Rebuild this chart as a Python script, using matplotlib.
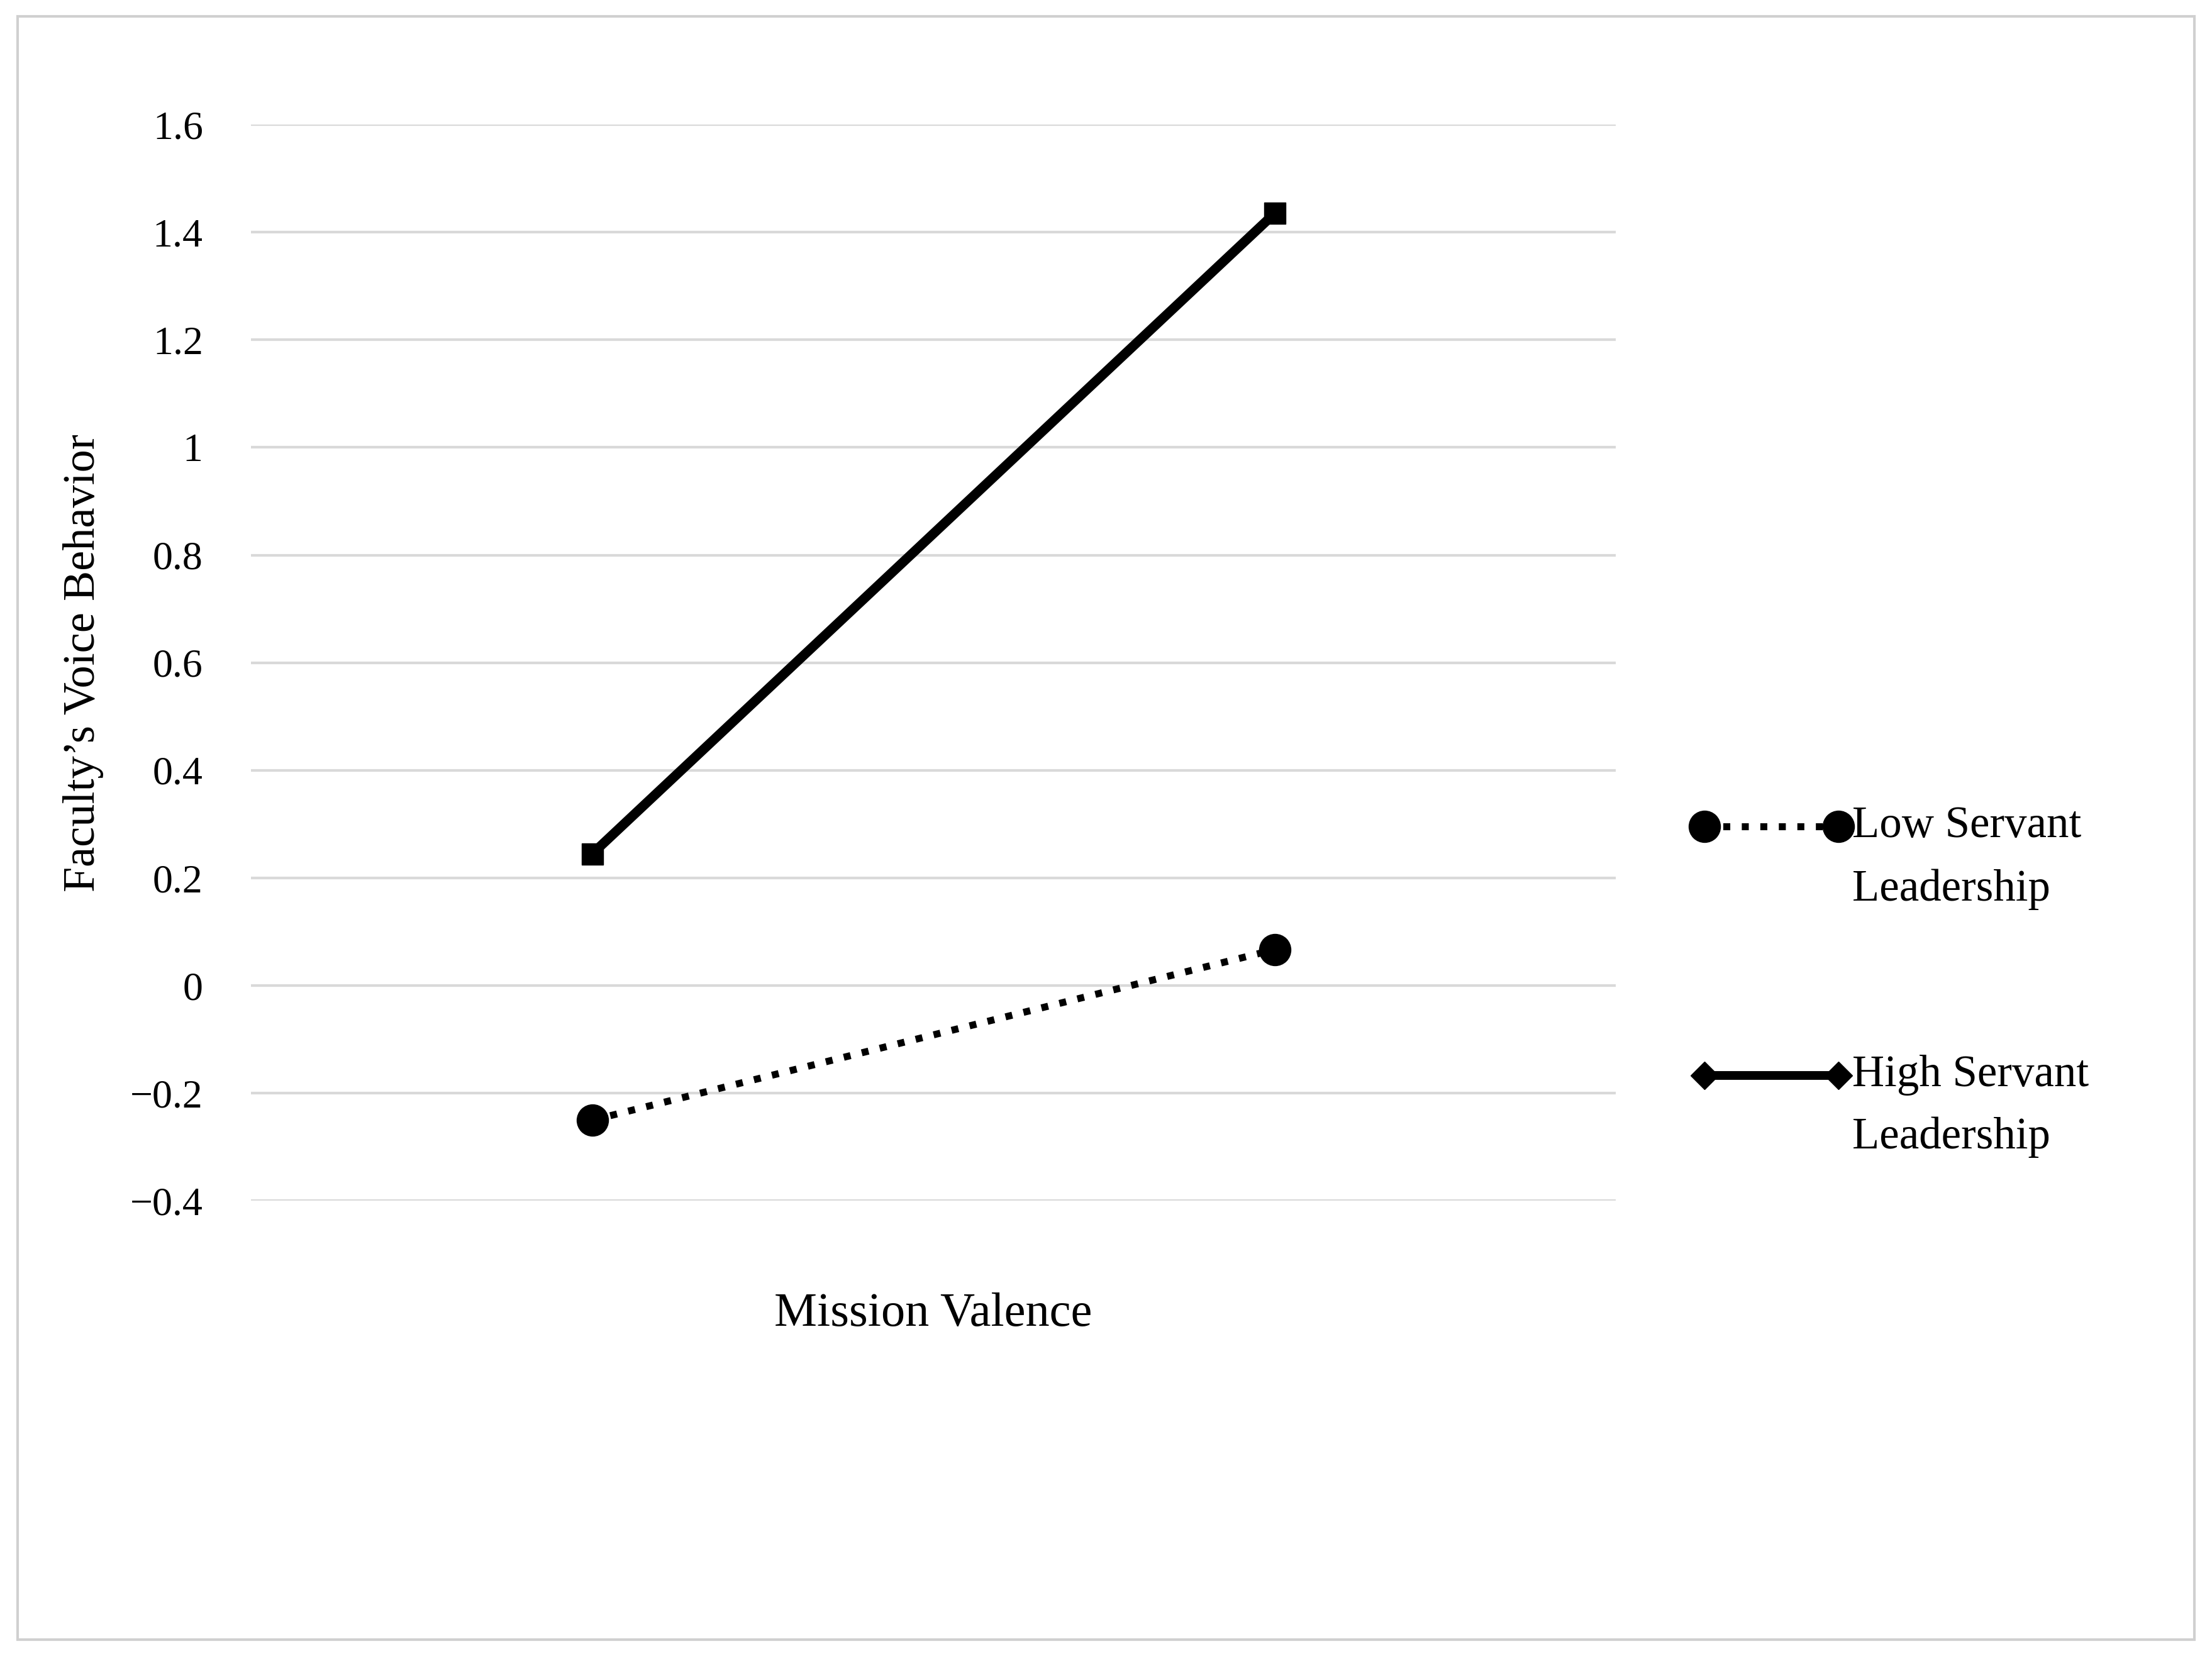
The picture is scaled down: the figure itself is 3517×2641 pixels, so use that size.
import matplotlib.pyplot as plt
from matplotlib.lines import Line2D
from matplotlib.patches import Rectangle

plt.rcParams['font.family'] = ['Liberation Serif', 'DejaVu Serif']
plt.rcParams['axes.unicode_minus'] = True

levels = [1, 2]
low_sl = [-0.25, 0.067]
high_sl = [0.245, 1.435]
yticks = [-0.4, -0.2, 0, 0.2, 0.4, 0.6, 0.8, 1, 1.2, 1.4, 1.6]
ytick_labels = ['\u22120.4', '\u22120.2', '0', '0.2', '0.4', '0.6', '0.8', '1', '1.2', '1.4', '1.6']

fig = plt.figure(figsize=(35.17, 26.41), dpi=100)
fig.add_artist(Rectangle((0.008, 0.013), 0.984, 0.977, transform=fig.transFigure,
                         fill=False, edgecolor='#d0d0d0', linewidth=3))

ax = fig.add_axes([0.1135, 0.277, 0.617, 0.648])
ax.plot(levels, high_sl, color='black', lw=11, marker='s', markersize=24, solid_capstyle='butt')
ax.plot(levels, low_sl, color='black', lw=8, linestyle=':', marker='o', markersize=36)
ax.set_xlim(0.5, 2.5)
ax.set_ylim(-0.4, 1.6)
ax.set_yticks(yticks)
ax.set_yticklabels(ytick_labels, fontsize=46)
ax.set_xticks([])
ax.grid(axis='y', color='#d9d9d9', linewidth=3)
ax.set_axisbelow(True)
for s in ax.spines.values():
    s.set_visible(False)
ax.tick_params(axis='y', length=0, pad=55)
ax.set_xlabel('Mission Valence', fontsize=55, labelpad=105)
ax.set_ylabel('Faculty\u2019s Voice Behavior', fontsize=52, labelpad=30)

# legend
fig.add_artist(Line2D([1208 / 1568, 1303 / 1568], [1 - 587 / 1180] * 2, color='black', lw=8,
                      linestyle=':', marker='o', markersize=36, transform=fig.transFigure))
fig.add_artist(Line2D([1208 / 1568, 1303 / 1568], [1 - 764 / 1180] * 2, color='black', lw=10,
                      marker='D', markersize=22, transform=fig.transFigure))
fig.text(1313 / 1568, 1 - 587 / 1180, 'Low Servant', fontsize=51, va='center')
fig.text(1313 / 1568, 1 - 632 / 1180, 'Leadership', fontsize=51, va='center')
fig.text(1313 / 1568, 1 - 764 / 1180, 'High Servant', fontsize=51, va='center')
fig.text(1313 / 1568, 1 - 808 / 1180, 'Leadership', fontsize=51, va='center')

fig.savefig('out.png', dpi=100, facecolor='white')
